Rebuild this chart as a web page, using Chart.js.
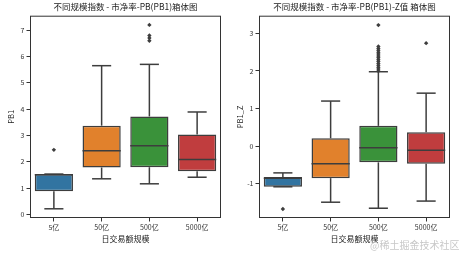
<!DOCTYPE html>
<html>
<head>
<meta charset="utf-8">
<script src="https://cdn.jsdelivr.net/npm/chart.js@4.4.0/dist/chart.umd.min.js"></script>
<style>
  body { margin: 0; background: #fff; width: 459px; height: 255px; position: relative; overflow: hidden; }
  .pane { position: absolute; top: 0; height: 255px; }
  #mark { position: absolute; left: 370px; top: 237px; font: 10px "Noto Sans CJK SC", sans-serif; color: #c8c8c8; white-space: nowrap; }
</style>
</head>
<body>
<div class="pane" style="left:0;width:229px"><canvas id="pb" width="229" height="255"></canvas></div>
<div class="pane" style="left:229px;width:230px"><canvas id="pbz" width="230" height="255"></canvas></div>
<div id="mark">@稀土掘金技术社区</div>
<script>
const categories = ['5亿', '50亿', '500亿', '5000亿'];
const boxColors = ['#3274a1', '#e1812c', '#3a923a', '#c03d3e'];

// PB1
const pbLow  = [0.21, 1.35, 1.16, 1.41];
const pbQ1   = [0.88, 1.78, 1.79, 1.64];
const pbMed  = [1.50, 2.42, 2.61, 2.08];
const pbQ3   = [1.53, 3.37, 3.72, 3.03];
const pbHigh = [1.53, 5.65, 5.70, 3.89];
const pbOut  = [[2.45], [], [6.6, 6.7, 6.8, 7.2], []];
const pbTicks = [0, 1, 2, 3, 4, 5, 6, 7];

// PB1_Z
const zLow  = [-1.08, -1.49, -1.65, -1.46];
const zQ1   = [-1.08, -0.85, -0.43, -0.47];
const zMed  = [-0.85, -0.47, -0.045, -0.11];
const zQ3   = [-0.82, 0.21, 0.54, 0.37];
const zHigh = [-0.71, 1.20, 1.98, 1.41];
const zOut  = [[-1.67], [], [2.0, 2.05, 2.1, 2.15, 2.2, 2.25, 2.3, 2.35, 2.4, 2.45, 2.5, 2.55, 2.6, 2.65, 3.22], [2.74]];
const zTicks = [-1, 0, 1, 2, 3];

const lineColor = '#3d3d3d';
const font = '"Noto Sans CJK SC", "DejaVu Sans", sans-serif';

const boxWhiskers = {
  id: 'boxWhiskers',
  afterLayout(chart) {
    // centre the title over the plot area, like matplotlib
    const t = chart.titleBlock;
    if (t) { t.left = chart.chartArea.left; t.right = chart.chartArea.right; }
  },
  afterDatasetsDraw(chart, args, opts) {
    const ctx = chart.ctx, y = chart.scales.y;
    const meta = chart.getDatasetMeta(0);
    ctx.save();
    ctx.strokeStyle = lineColor;
    ctx.lineWidth = 1.5;
    meta.data.forEach((bar, i) => {
      const cx = bar.x, hw = bar.width / 2, cap = bar.width / 4;
      const seg = (x1, v1, x2, v2) => {
        ctx.beginPath();
        ctx.moveTo(x1, y.getPixelForValue(v1));
        ctx.lineTo(x2, y.getPixelForValue(v2));
        ctx.stroke();
      };
      seg(cx - hw, opts.med[i], cx + hw, opts.med[i]);
      seg(cx, opts.q3[i], cx, opts.high[i]);
      seg(cx, opts.q1[i], cx, opts.low[i]);
      seg(cx - cap, opts.high[i], cx + cap, opts.high[i]);
      seg(cx - cap, opts.low[i], cx + cap, opts.low[i]);
    });
    ctx.restore();
  },
  afterDraw(chart) {
    const a = chart.chartArea, ctx = chart.ctx;
    ctx.save();
    ctx.strokeStyle = '#333';
    ctx.lineWidth = 1;
    ctx.strokeRect(a.left + 0.5, a.top + 0.5, a.right - a.left - 1, a.bottom - a.top - 1);
    ctx.restore();
  }
};

function makeChart(id, title, yTitle, low, q1, med, q3, high, out, ticks, yMin, yMax, padRight) {
  const outPts = [];
  out.forEach((vals, i) => vals.forEach(v => outPts.push({ x: categories[i], y: v })));
  return new Chart(document.getElementById(id), {
    type: 'bar',
    data: {
      labels: categories,
      datasets: [{
        data: q1.map((v, i) => [v, q3[i]]),
        backgroundColor: boxColors,
        borderColor: lineColor,
        borderWidth: 1.5,
        borderSkipped: false,
        categoryPercentage: 1,
        barPercentage: 0.8
      }, {
        type: 'scatter',
        data: outPts,
        pointStyle: 'rectRot',
        radius: 2.2,
        backgroundColor: lineColor,
        borderColor: lineColor,
        borderWidth: 0
      }]
    },
    options: {
      responsive: false,
      animation: false,
      layout: { padding: { right: padRight, left: 0, top: 0, bottom: 0 } },
      plugins: {
        legend: { display: false },
        tooltip: { enabled: false },
        title: {
          display: true, text: title, color: '#222',
          font: { family: font, size: 8.5, weight: 'normal' },
          padding: { top: 2, bottom: 3.5 }
        },
        boxWhiskers: { low, q1, med, q3, high }
      },
      scales: {
        x: {
          afterFit: s => { s.height = 37; },
          grid: { offset: false, drawOnChartArea: false, color: '#333', tickLength: 3.5 },
          border: { display: false },
          ticks: { color: '#333', font: { family: font, size: 7 }, padding: 2 },
          title: { display: true, text: '日交易额规模', color: '#222', font: { family: font, size: 8 }, padding: { top: 1, bottom: 11 } }
        },
        y: {
          min: yMin, max: yMax,
          afterFit: s => { s.width = 30; },
          afterBuildTicks: s => { s.ticks = ticks.map(v => ({ value: v })); },
          grid: { drawOnChartArea: false, color: '#333', tickLength: 3.5 },
          border: { display: false },
          ticks: { color: '#333', font: { family: font, size: 7 }, padding: 2 },
          title: { display: true, text: yTitle, color: '#222', font: { family: font, size: 7.5 }, padding: { top: 7, bottom: 0 } }
        }
      }
    },
    plugins: [boxWhiskers]
  });
}

makeChart('pb', '不同规模指数 - 市净率-PB(PB1)箱体图', 'PB1',
  pbLow, pbQ1, pbMed, pbQ3, pbHigh, pbOut, pbTicks, -0.14, 7.55, 8);
makeChart('pbz', '不同规模指数 - 市净率-PB(PB1)-Z值 箱体图', 'PB1_Z',
  zLow, zQ1, zMed, zQ3, zHigh, zOut, zTicks, -1.91, 3.47, 9);
</script>
</body>
</html>
